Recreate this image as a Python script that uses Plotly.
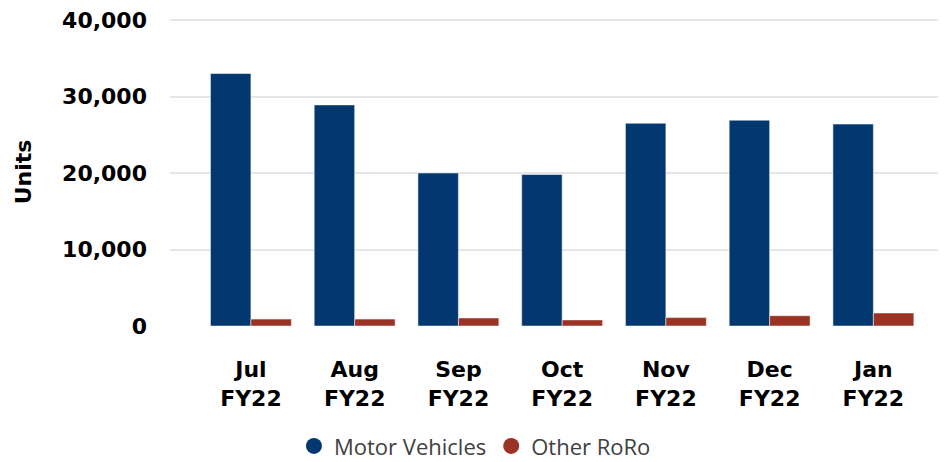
import plotly.graph_objects as go

months = ["Jul", "Aug", "Sep", "Oct", "Nov", "Dec", "Jan"]
year_label = ["FY22"] * 7
motor_vehicles = [33000, 28900, 20000, 19800, 26500, 26900, 26400]
other_roro = [900, 900, 1050, 800, 1100, 1350, 1700]
y_ticks = [0, 10000, 20000, 30000, 40000]
y_tick_text = ["0", "10,000", "20,000", "30,000", "40,000"]
series_names = ["Motor Vehicles", "Other RoRo"]
series_colors = ["#02386F", "#9A3324"]

x = list(range(len(months)))
tick_text = [f"{m}<br>{y}" for m, y in zip(months, year_label)]

fig = go.Figure()
for name, vals, col in zip(series_names, [motor_vehicles, other_roro], series_colors):
    fig.add_trace(go.Bar(x=x, y=vals, name=name, showlegend=False,
                         marker=dict(color=col, line=dict(color="rgba(255,255,255,0.5)", width=1))))
# legend entries with circle symbols
for name, col in zip(series_names, series_colors):
    fig.add_trace(go.Scatter(x=[None], y=[None], mode="markers", name=name,
                             marker=dict(symbol="circle", size=23, color=col)))

tick_font = dict(family="DejaVu Sans", size=22, color="#000000", weight="bold")

fig.update_layout(
    width=938, height=454,
    margin=dict(l=162, r=0, t=10, b=136, autoexpand=False),
    paper_bgcolor="white", plot_bgcolor="white",
    barmode="group", bargap=0.22, bargroupgap=0,
    xaxis=dict(range=[-0.78, 6.70], tickmode="array", tickvals=x, ticktext=tick_text,
               tickfont=tick_font, showgrid=False, zeroline=False, showline=False,
               ticks="", ticklabelstandoff=28),
    yaxis=dict(range=[0, 40261], tickmode="array", tickvals=y_ticks, ticktext=y_tick_text,
               tickfont=tick_font, showgrid=True, gridcolor="#E6E6E6", gridwidth=2,
               zeroline=False, showline=False, ticks="", ticklabelstandoff=22,
               ticklabeloverflow="allow",
               title=dict(text="Units", font=tick_font, standoff=24)),
    showlegend=True,
    legend=dict(orientation="h", x=0.393, y=-0.39, xanchor="center", yanchor="middle",
                font=dict(family="Open Sans", size=22, color="#404040"),
                itemwidth=30, traceorder="normal", tracegroupgap=0),
)

fig.write_html("out.html")
